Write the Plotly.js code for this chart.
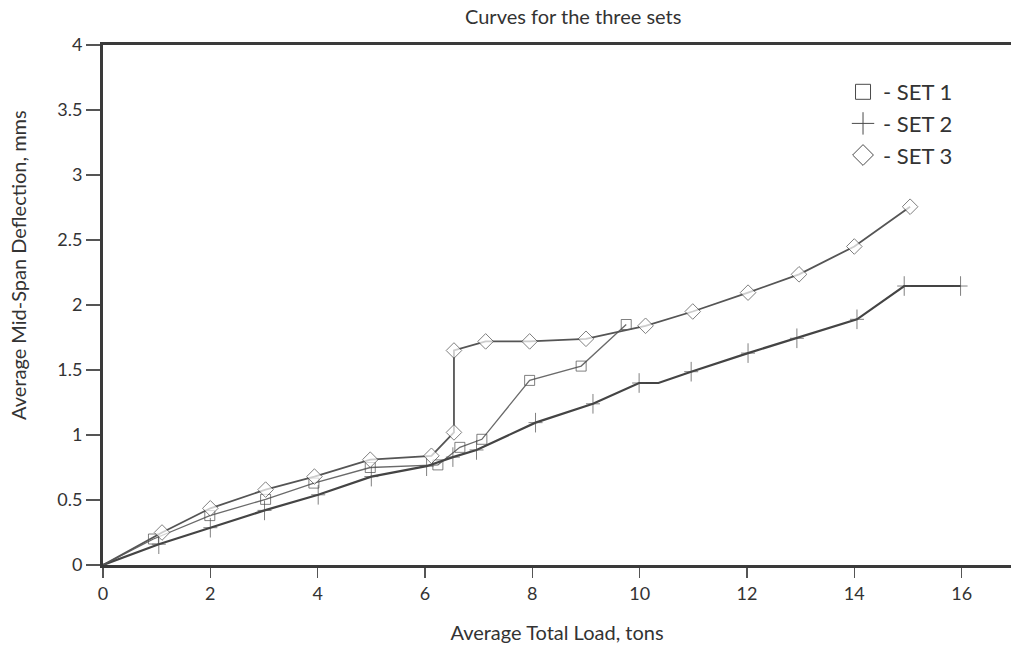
<!DOCTYPE html>
<html>
<head>
<meta charset="utf-8">
<script src="https://cdn.plot.ly/plotly-3.0.1.min.js"></script>
<style>html,body{margin:0;padding:0;background:#fff;}#chart{width:1011px;height:652px;}</style>
</head>
<body>
<div id="chart"></div>
<script>
// Set 1 (squares)
const set1Load = [0, 0.94, 1.99, 3.03, 3.93, 4.98, 6.24, 6.65, 7.06, 7.95, 8.91, 9.75];
const set1Defl = [0, 0.20, 0.38, 0.505, 0.63, 0.75, 0.77, 0.905, 0.967, 1.42, 1.53, 1.85];
// Set 2 (plus)
const set2Load = [0, 1.04, 2.0, 3.01, 4.01, 5.0, 6.03, 6.52, 6.96, 8.06, 9.13, 9.99, 10.35, 10.96, 12.02, 12.93, 14.05, 14.93, 15.98];
const set2Defl = [0, 0.16, 0.287, 0.42, 0.54, 0.68, 0.76, 0.83, 0.885, 1.095, 1.24, 1.40, 1.40, 1.487, 1.63, 1.744, 1.89, 2.146, 2.146];
// Set 3 (diamonds)
const set3Load = [0, 1.10, 2.0, 3.03, 3.94, 4.98, 6.12, 6.54, 6.54, 7.13, 7.95, 9.0, 10.11, 10.99, 12.02, 12.97, 14.0, 15.04];
const set3Defl = [0, 0.25, 0.436, 0.58, 0.68, 0.81, 0.84, 1.02, 1.65, 1.72, 1.72, 1.74, 1.84, 1.95, 2.095, 2.236, 2.45, 2.756];

const legendNames = ['- SET 1', '- SET 2', '- SET 3'];
const xTicks = [0, 2, 4, 6, 8, 10, 12, 14, 16];
const yTicks = [0, 0.5, 1, 1.5, 2, 2.5, 3, 3.5, 4];
const yTitle = 'Average Mid-Span Deflection, mms';

const ink = '#4a4a4a';
function sizes(xs, hidden, s) { return xs.map((_, i) => hidden.includes(i) ? 0 : s); }

const traces = [
  {x: set1Load, y: set1Defl, mode: 'lines+markers', showlegend: false,
   line: {color: '#6a6a6a', width: 1.3},
   marker: {symbol: 'square-open', size: sizes(set1Load, [0], 10), color: ink, line: {width: 1}}},
  {x: set2Load, y: set2Defl, mode: 'lines+markers', showlegend: false,
   line: {color: '#444', width: 2.2},
   marker: {symbol: 'line-ns-open', size: sizes(set2Load, [0, 12], 14), color: ink, line: {width: 1, color: ink}}},
  {x: set2Load, y: set2Defl, mode: 'markers', showlegend: false, hoverinfo: 'skip',
   marker: {symbol: 'line-ew-open', size: sizes(set2Load, [0, 12], 10), color: ink, line: {width: 1, color: ink}}},
  {x: set3Load, y: set3Defl, mode: 'lines+markers', showlegend: false,
   line: {color: '#555', width: 1.8},
   marker: {symbol: 'diamond', size: sizes(set3Load, [0], 12), color: '#fff', line: {width: 1, color: ink}}},
  // legend entries
  {x: [null], y: [null], mode: 'markers', name: legendNames[0],
   marker: {symbol: 'square-open', size: 15, color: ink, line: {width: 1}}},
  {x: [null], y: [null], mode: 'markers', name: legendNames[1],
   marker: {symbol: 'cross-thin-open', size: 20, color: ink, line: {width: 1, color: ink}}},
  {x: [null], y: [null], mode: 'markers', name: legendNames[2],
   marker: {symbol: 'diamond-open', size: 20, color: ink, line: {width: 1}}}
];

const font = 'Lato, "DejaVu Sans", sans-serif';
const layout = {
  width: 1011, height: 652,
  margin: {l: 103, r: 0, t: 45, b: 87},
  paper_bgcolor: '#fff', plot_bgcolor: '#fff',
  font: {family: font, color: '#333'},
  title: {text: 'Curves for the three sets', x: 0.567, xanchor: 'center', y: 0.985, yanchor: 'top',
          font: {size: 20, color: '#333', family: font}},
  xaxis: {range: [0, 16.92], tickvals: xTicks, ticks: 'outside', ticklen: 10, tickwidth: 1.2, tickcolor: '#555',
          showgrid: false, zeroline: false, showline: true, linewidth: 3, linecolor: '#3a3a3a', mirror: true,
          tickfont: {size: 18, color: '#333'},
          title: {text: 'Average Total Load, tons', font: {size: 20, color: '#333'}, standoff: 24}},
  yaxis: {range: [0, 4], tickvals: yTicks, ticks: 'outside', ticklen: 14, tickwidth: 1.2, tickcolor: '#555',
          showgrid: false, zeroline: false, showline: true, linewidth: 3, linecolor: '#3a3a3a', mirror: false,
          tickfont: {size: 18, color: '#333'}},
  annotations: [
    {text: yTitle, xref: 'paper', yref: 'paper', x: -0.0936, y: 0.577, xanchor: 'center', yanchor: 'middle',
     textangle: -90, showarrow: false, font: {size: 20, color: '#333', family: font}}
  ],
  legend: {x: 0.815, y: 0.95, xanchor: 'left', yanchor: 'top', bgcolor: 'rgba(0,0,0,0)',
           font: {size: 22, color: '#333'}, itemwidth: 30, tracegroupgap: 8},
  showlegend: true
};

Plotly.newPlot('chart', traces, layout, {displayModeBar: false, staticPlot: true});
</script>
</body>
</html>
